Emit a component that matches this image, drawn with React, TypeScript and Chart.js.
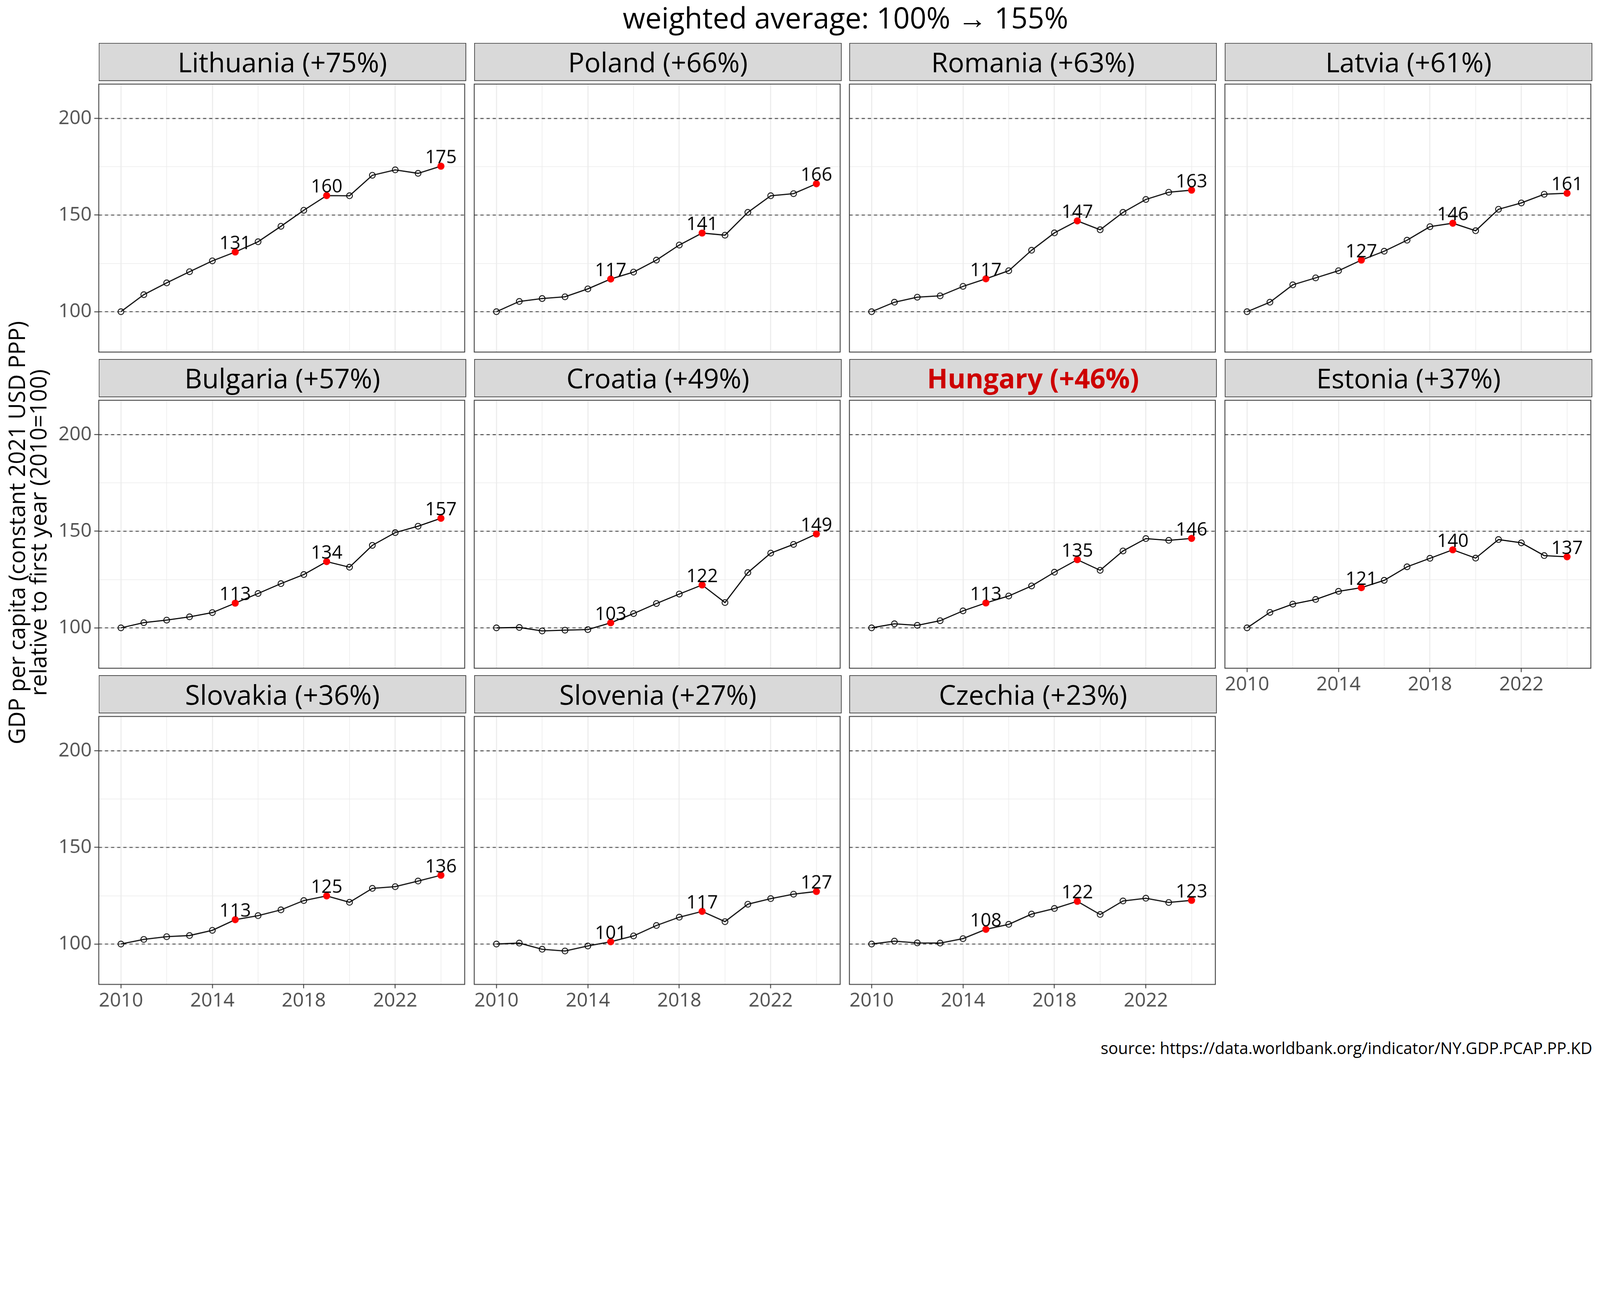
import React, { useEffect, useRef, useState } from "react";
import { Chart, registerables } from "chart.js";

Chart.register(...registerables);

// ---------------- data ----------------
const YEARS = [2010, 2011, 2012, 2013, 2014, 2015, 2016, 2017, 2018, 2019, 2020, 2021, 2022, 2023, 2024];

const LITHUANIA = [100, 108.8, 114.9, 120.7, 126.3, 130.9, 136.2, 144.2, 152.5, 160.1, 160.0, 170.6, 173.4, 171.6, 175.3];
const POLAND = [100, 105.3, 106.8, 107.7, 111.8, 116.9, 120.5, 126.7, 134.5, 140.7, 139.6, 151.4, 160.0, 161.1, 166.2];
const ROMANIA = [100, 104.9, 107.5, 108.2, 113.1, 117.0, 121.2, 131.8, 140.8, 147.0, 142.4, 151.4, 158.1, 161.8, 162.9];
const LATVIA = [100, 104.9, 113.9, 117.5, 121.2, 126.7, 131.3, 137.0, 144.0, 145.8, 141.9, 153.0, 156.3, 160.8, 161.3];
const BULGARIA = [100, 102.7, 104.0, 105.7, 107.9, 112.8, 117.8, 122.9, 127.6, 134.3, 131.4, 142.7, 149.3, 152.6, 156.7];
const CROATIA = [100, 100.2, 98.4, 98.8, 99.1, 102.6, 107.4, 112.6, 117.5, 122.2, 113.1, 128.6, 138.7, 143.2, 148.6];
const HUNGARY = [100, 102.1, 101.3, 103.7, 108.8, 112.9, 116.5, 121.7, 128.8, 135.3, 129.8, 139.8, 146.2, 145.3, 146.3];
const ESTONIA = [100, 108.0, 112.3, 114.7, 118.9, 120.8, 124.6, 131.6, 136.0, 140.4, 136.1, 145.7, 144.0, 137.4, 136.8];
const SLOVAKIA = [100, 102.4, 103.8, 104.4, 107.1, 112.6, 114.7, 117.7, 122.5, 124.9, 121.6, 128.8, 129.7, 132.6, 135.6];
const SLOVENIA = [100, 100.5, 97.3, 96.4, 99.0, 101.2, 104.2, 109.6, 113.9, 116.9, 111.6, 120.6, 123.5, 125.8, 127.2];
const CZECHIA = [100, 101.5, 100.6, 100.5, 102.8, 107.6, 110.2, 115.5, 118.4, 122.1, 115.3, 122.3, 123.7, 121.5, 122.6];

const COUNTRIES = ["Lithuania", "Poland", "Romania", "Latvia", "Bulgaria", "Croatia", "Hungary", "Estonia", "Slovakia", "Slovenia", "Czechia"];
const SERIES = [LITHUANIA, POLAND, ROMANIA, LATVIA, BULGARIA, CROATIA, HUNGARY, ESTONIA, SLOVAKIA, SLOVENIA, CZECHIA];
const HIGHLIGHT_COUNTRY = "Hungary";
const LABEL_YEARS = [2015, 2019, 2024];

const Y_TICKS = [100, 125, 150, 175, 200];
const Y_LABELED = [100, 150, 200];
const X_TICKS = [2010, 2012, 2014, 2016, 2018, 2020, 2022, 2024];
const X_LABELED = [2010, 2014, 2018, 2022];
const REF_LINES = [100, 150, 200];

const TITLE = "weighted average: 100% \u2192 155%";
const Y_TITLE = ["GDP per capita (constant 2021 USD PPP)", "relative to first year (2010=100)"];
const CAPTION = "source: https://data.worldbank.org/indicator/NY.GDP.PCAP.PP.KD";

// ---------------- layout (design pixels, 4960 x 3307) ----------------
const DESIGN_W = 4960;
const DESIGN_H = 3307;
const FONT = "'Open Sans', 'Noto Sans', sans-serif";
const COL_X = [306, 1470, 2633, 3797];
const ROW_Y = [133, 1113, 2093];
const PANEL_W = 1139;
const STRIP_H = 116;
const PANEL_H = 842;
const PAD_L = 170;
const PAD_B = 110;
const PAD_R = 6;
const Y_MIN = 79.1;
const Y_MAX = 217.8;
const X_MIN = 2009.03;
const X_MAX = 2025.04;

Chart.defaults.font.family = FONT;

function getScale() {
  const w = window.innerWidth || DESIGN_W;
  const h = window.innerHeight || DESIGN_H;
  return Math.min(w / DESIGN_W, h / DESIGN_H);
}

function Panel({ idx, scale }: { idx: number; scale: number }) {
  const ref = useRef<HTMLCanvasElement>(null);
  const row = Math.floor(idx / 4);
  const col = idx % 4;
  const showY = col === 0;
  const showX = row === 2 || (row === 1 && col === 3);
  const w = PAD_L + PANEL_W + PAD_R;
  const h = PANEL_H + PAD_B;

  useEffect(() => {
    const values = SERIES[idx];
    const data = YEARS.map((yr, i) => ({ x: yr, y: values[i] }));
    const isLab = (i: number) => LABEL_YEARS.includes(YEARS[i]);

    const decor = {
      id: "decor" + idx,
      beforeDatasetsDraw(chart: any) {
        const { ctx, chartArea, scales } = chart;
        ctx.save();
        ctx.beginPath();
        ctx.rect(chartArea.left, chartArea.top, chartArea.right - chartArea.left, chartArea.bottom - chartArea.top);
        ctx.clip();
        ctx.strokeStyle = "#3a3a3a";
        ctx.lineWidth = 2.6;
        ctx.setLineDash([10, 9]);
        REF_LINES.forEach((v) => {
          const py = scales.y.getPixelForValue(v);
          ctx.beginPath();
          ctx.moveTo(chartArea.left, py);
          ctx.lineTo(chartArea.right, py);
          ctx.stroke();
        });
        ctx.restore();
      },
      afterDatasetsDraw(chart: any) {
        const { ctx, chartArea } = chart;
        const meta = chart.getDatasetMeta(0);
        ctx.save();
        ctx.font = `57px ${FONT}`;
        ctx.fillStyle = "#000";
        ctx.textAlign = "center";
        ctx.textBaseline = "alphabetic";
        meta.data.forEach((pt: any, i: number) => {
          if (isLab(i)) ctx.fillText(String(Math.round(values[i])), pt.x, pt.y - 9);
        });
        ctx.setLineDash([]);
        ctx.strokeStyle = "#333333";
        ctx.lineWidth = 2.6;
        ctx.strokeRect(chartArea.left, chartArea.top, chartArea.right - chartArea.left, chartArea.bottom - chartArea.top);
        ctx.restore();
      },
    };

    const chart = new Chart(ref.current as HTMLCanvasElement, {
      type: "line",
      data: {
        datasets: [
          {
            data,
            borderColor: "#000",
            borderWidth: 3.4,
            tension: 0,
            clip: false as any,
            pointRadius: (c: any) => (isLab(c.dataIndex) ? 11 : 9),
            pointBackgroundColor: (c: any) => (isLab(c.dataIndex) ? "#ff0000" : "rgba(0,0,0,0)"),
            pointBorderColor: (c: any) => (isLab(c.dataIndex) ? "#ff0000" : "#000"),
            pointBorderWidth: (c: any) => (isLab(c.dataIndex) ? 0 : 2.6),
          } as any,
        ],
      },
      options: {
        responsive: false,
        animation: false,
        devicePixelRatio: Math.max(0.25, scale * (window.devicePixelRatio || 1)),
        events: [],
        layout: { padding: { left: 0, top: 0, right: PAD_R, bottom: 0 } },
        plugins: { legend: { display: false }, tooltip: { enabled: false } },
        scales: {
          x: {
            type: "linear",
            min: X_MIN,
            max: X_MAX,
            afterBuildTicks: (s: any) => {
              s.ticks = X_TICKS.map((v) => ({ value: v }));
            },
            afterFit: (s: any) => {
              s.height = PAD_B;
              s.paddingLeft = 0;
              s.paddingRight = 0;
            },
            border: { display: false },
            grid: {
              color: "#ebebeb",
              lineWidth: (c: any) => (c.tick && X_LABELED.includes(c.tick.value) ? 3.2 : 1.8),
              drawTicks: showX,
              tickLength: 12,
              tickWidth: 2.6,
              tickColor: (c: any) => (c.tick && X_LABELED.includes(c.tick.value) ? "#333333" : "rgba(0,0,0,0)"),
            },
            ticks: {
              display: showX,
              autoSkip: false,
              maxRotation: 0,
              minRotation: 0,
              padding: 4,
              color: "#4d4d4d",
              font: { size: 60, family: FONT },
              callback: (v: any) => (X_LABELED.includes(Number(v)) ? String(v) : ""),
            },
          },
          y: {
            type: "linear",
            min: Y_MIN,
            max: Y_MAX,
            afterBuildTicks: (s: any) => {
              s.ticks = Y_TICKS.map((v) => ({ value: v }));
            },
            afterFit: (s: any) => {
              s.width = PAD_L;
              s.paddingTop = 0;
              s.paddingBottom = 0;
            },
            border: { display: false },
            grid: {
              color: "#ebebeb",
              lineWidth: (c: any) => (c.tick && Y_LABELED.includes(c.tick.value) ? 3.2 : 1.8),
              drawTicks: showY,
              tickLength: 14,
              tickWidth: 2.6,
              tickColor: (c: any) => (c.tick && Y_LABELED.includes(c.tick.value) ? "#333333" : "rgba(0,0,0,0)"),
            },
            ticks: {
              display: showY,
              autoSkip: false,
              padding: 8,
              color: "#4d4d4d",
              font: { size: 60, family: FONT },
              callback: (v: any) => (Y_LABELED.includes(Number(v)) ? String(v) : ""),
            },
          },
        },
      } as any,
      plugins: [decor],
    });
    return () => chart.destroy();
  }, [idx, scale]);

  return (
    <canvas
      ref={ref}
      width={w}
      height={h}
      style={{
        position: "absolute",
        left: COL_X[col] - PAD_L,
        top: ROW_Y[row] + STRIP_H,
        width: w,
        height: h,
        zIndex: 1,
      }}
    />
  );
}

function Strip({ idx }: { idx: number }) {
  const row = Math.floor(idx / 4);
  const col = idx % 4;
  const name = COUNTRIES[idx];
  const vals = SERIES[idx];
  const pct = Math.round(vals[vals.length - 1] - vals[0]);
  const hi = name === HIGHLIGHT_COUNTRY;
  return (
    <div
      style={{
        position: "absolute",
        left: COL_X[col],
        top: ROW_Y[row],
        width: PANEL_W,
        height: STRIP_H + 2,
        boxSizing: "border-box",
        background: "#d9d9d9",
        border: "2.6px solid #333333",
        display: "flex",
        alignItems: "center",
        justifyContent: "center",
        fontSize: 84,
        lineHeight: 1,
        fontWeight: hi ? 700 : 400,
        color: hi ? "#cd0000" : "#000",
        whiteSpace: "nowrap",
        zIndex: 2,
      }}
    >
      {`${name} (+${pct}%)`}
    </div>
  );
}

export default function App() {
  const [scale, setScale] = useState<number>(() => getScale());
  useEffect(() => {
    document.body.style.margin = "0";
    document.body.style.overflow = "hidden";
    const onResize = () => setScale(getScale());
    window.addEventListener("resize", onResize);
    onResize();
    return () => window.removeEventListener("resize", onResize);
  }, []);
  return (
    <div
      style={{
        position: "absolute",
        left: 0,
        top: 0,
        width: DESIGN_W,
        height: DESIGN_H,
        background: "#ffffff",
        overflow: "hidden",
        fontFamily: FONT,
        transform: `scale(${scale})`,
        transformOrigin: "0 0",
      }}
    >
      <div
        style={{
          position: "absolute",
          left: COL_X[0],
          top: 8,
          width: COL_X[3] + PANEL_W - COL_X[0],
          textAlign: "center",
          fontSize: 90,
          lineHeight: "90px",
          color: "#000",
          whiteSpace: "nowrap",
        }}
      >
        {TITLE}
      </div>
      <div
        style={{
          position: "absolute",
          left: 84 - 1000,
          top: 1651 - 70,
          width: 2000,
          height: 140,
          transform: "rotate(-90deg)",
          transformOrigin: "50% 50%",
          textAlign: "center",
          fontSize: 70,
          lineHeight: "66px",
          color: "#000",
          display: "flex",
          flexDirection: "column",
          justifyContent: "center",
        }}
      >
        <div>{Y_TITLE[0]}</div>
        <div>{Y_TITLE[1]}</div>
      </div>
      {COUNTRIES.map((_, i) => (
        <Strip key={"s" + i} idx={i} />
      ))}
      {COUNTRIES.map((_, i) => (
        <Panel key={"p" + i} idx={i} scale={scale} />
      ))}
      <div
        style={{
          position: "absolute",
          right: DESIGN_W - (COL_X[3] + PANEL_W),
          top: 3223,
          fontSize: 50,
          lineHeight: "50px",
          color: "#000",
          whiteSpace: "nowrap",
        }}
      >
        {CAPTION}
      </div>
    </div>
  );
}
